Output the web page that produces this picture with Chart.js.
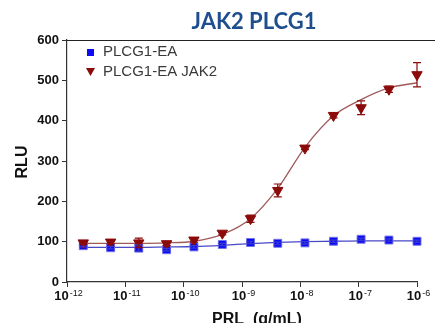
<!DOCTYPE html>
<html>
<head>
<meta charset="utf-8">
<script src="https://cdn.jsdelivr.net/npm/chart.js@4.4.1/dist/chart.umd.min.js"></script>
<style>
  html, body { margin: 0; padding: 0; background: #fff; }
</style>
</head>
<body>
<canvas id="chart" width="435" height="323"></canvas>
<script>
// doses (g/mL), half-log dilution series
const doses = [1.9e-12, 5.6e-12, 1.7e-11, 5.1e-11, 1.5e-10, 4.6e-10, 1.4e-9, 4.1e-9, 1.2e-8, 3.7e-8, 1.1e-7, 3.3e-7, 1e-6];

// PLCG1-EA
const plcgVals = [90, 85, 84, 80, 87, 93, 98, 96, 97, 101, 106, 104, 101];
const plcgErr  = [3, 3, 8, 3, 3, 3, 3, 3, 3, 3, 3, 3, 3];
const plcgFit  = [86, 86, 86, 87, 88, 91, 95, 98, 100, 101, 102, 102, 102];

// PLCG1-EA JAK2
const jakVals = [97, 99, 97, 95, 104, 121, 157, 227, 332, 413, 432, 478, 514];
const jakErr  = [4, 4, 12, 4, 5, 4, 9, 16, 4, 6, 17, 8, 30];
const jakFit  = [96, 96, 96, 97, 101, 118, 157, 232, 334, 412, 452, 481, 494];

const yTicks = [0, 100, 200, 300, 400, 500, 600];
const xExps = [-12, -11, -10, -9, -8, -7, -6];

const RED = '#8b0a0a';

function pts(vals) {
  return vals.map((v, i) => ({ x: doses[i], y: v }));
}

// error bars, title, axis titles, legend, tick labels
const decor = {
  id: 'decor',
  afterDatasetsDraw(chart) {
    const ctx = chart.ctx;
    const xs = chart.scales.x, ys = chart.scales.y;
    const bars = [[plcgVals, plcgErr, '#3a3ad0'], [jakVals, jakErr, RED]];
    ctx.save();
    ctx.lineWidth = 1.2;
    bars.forEach(([vals, errs, col]) => {
      ctx.strokeStyle = col;
      vals.forEach((v, i) => {
        const x = xs.getPixelForValue(doses[i]);
        const yt = ys.getPixelForValue(v + errs[i]);
        const yb = ys.getPixelForValue(v - errs[i]);
        ctx.beginPath();
        ctx.moveTo(x, yt); ctx.lineTo(x, yb);
        ctx.moveTo(x - 4, yt); ctx.lineTo(x + 4, yt);
        ctx.moveTo(x - 4, yb); ctx.lineTo(x + 4, yb);
        ctx.stroke();
      });
    });
    ctx.restore();
  },
  afterDraw(chart) {
    const ctx = chart.ctx;
    const a = chart.chartArea;
    const xs = chart.scales.x;
    ctx.save();
    // top frame line
    ctx.strokeStyle = '#222';
    ctx.lineWidth = 1;
    ctx.beginPath();
    ctx.moveTo(a.left, a.top + 0.5);
    ctx.lineTo(435, a.top + 0.5);
    ctx.stroke();

    // title
    ctx.fillStyle = '#1f4e8f';
    ctx.font = 'bold 22px Lato';
    ctx.textAlign = 'center';
    ctx.textBaseline = 'middle';
    ctx.fillText('JAK2 PLCG1', 254, 22);

    // x tick labels 10^n
    ctx.fillStyle = '#111';
    xExps.forEach(e => {
      const x = xs.getPixelForValue(Math.pow(10, e));
      ctx.font = 'bold 13px "Liberation Sans"';
      const w1 = ctx.measureText('10').width;
      ctx.font = '9px "Liberation Sans"';
      const w2 = ctx.measureText(String(e)).width;
      const x0 = x + 1 - (w1 + w2) / 2;
      ctx.textAlign = 'left';
      ctx.textBaseline = 'alphabetic';
      ctx.font = 'bold 13px "Liberation Sans"';
      ctx.fillText('10', x0, 300);
      ctx.font = '9px "Liberation Sans"';
      ctx.fillText(String(e), x0 + w1 + 1, 296);
    });

    // axis titles
    ctx.font = 'bold 16px "Liberation Sans"';
    ctx.textAlign = 'center';
    ctx.textBaseline = 'alphabetic';
    ctx.fillText('PRL  (g/mL)', 257, 324);
    ctx.save();
    ctx.translate(27, 162);
    ctx.rotate(-Math.PI / 2);
    ctx.fillText('RLU', 0, 0);
    ctx.restore();

    // legend
    ctx.font = '15px "Liberation Sans"';
    ctx.fillStyle = '#3a3a3a';
    ctx.textAlign = 'left';
    ctx.textBaseline = 'middle';
    ctx.fillText('PLCG1-EA', 103, 52);
    ctx.fillText('PLCG1-EA JAK2', 103, 72);
    ctx.fillStyle = '#0a0af5';
    ctx.fillRect(87, 49, 7, 7);
    ctx.fillStyle = RED;
    ctx.beginPath();
    ctx.moveTo(86, 68); ctx.lineTo(95, 68); ctx.lineTo(90.5, 76);
    ctx.closePath();
    ctx.fill();
    ctx.restore();
  }
};

new Chart(document.getElementById('chart'), {
  type: 'line',
  data: {
    datasets: [
      {
        label: 'PLCG1-EA fit',
        data: pts(plcgFit),
        borderColor: '#4848c8',
        borderWidth: 1.3,
        pointRadius: 0,
        cubicInterpolationMode: 'monotone',
        clip: false,
        order: 3
      },
      {
        label: 'PLCG1-EA JAK2 fit',
        data: pts(jakFit),
        borderColor: '#a05a5a',
        borderWidth: 1.3,
        pointRadius: 0,
        cubicInterpolationMode: 'monotone',
        clip: false,
        order: 2
      },
      {
        label: 'PLCG1-EA',
        data: pts(plcgVals),
        showLine: false,
        pointStyle: 'rect',
        pointRadius: 5.6,
        backgroundColor: '#0a0af5',
        borderColor: '#7070e8',
        borderWidth: 1,
        clip: false,
        order: 1
      },
      {
        label: 'PLCG1-EA JAK2',
        data: pts(jakVals),
        showLine: false,
        pointStyle: 'triangle',
        rotation: 180,
        pointRadius: 6,
        backgroundColor: RED,
        borderColor: RED,
        borderWidth: 1,
        clip: false,
        order: 0
      }
    ]
  },
  options: {
    responsive: false,
    animation: false,
    layout: { padding: { top: 40, right: 18, left: 0, bottom: 0 } },
    plugins: {
      legend: { display: false },
      title: { display: false },
      tooltip: { enabled: false }
    },
    scales: {
      x: {
        type: 'logarithmic',
        min: 1e-12,
        max: 1e-6,
        afterBuildTicks: s => { s.ticks = xExps.map(e => ({ value: Math.pow(10, e) })); },
        afterFit: s => { s.height = 41; },
        ticks: { callback: () => '', autoSkip: false },
        grid: { drawOnChartArea: false, tickLength: 5, color: '#333' },
        border: { color: '#333', width: 1.2 }
      },
      y: {
        min: 0,
        max: 600,
        afterBuildTicks: s => { s.ticks = yTicks.map(v => ({ value: v })); },
        afterFit: s => { s.width = 67; },
        ticks: {
          color: '#111',
          padding: 3,
          font: { family: 'Liberation Sans', weight: 'bold', size: 13 }
        },
        grid: { drawOnChartArea: false, tickLength: 5, color: '#333' },
        border: { color: '#333', width: 1.2 }
      }
    }
  },
  plugins: [decor]
});
</script>
</body>
</html>
